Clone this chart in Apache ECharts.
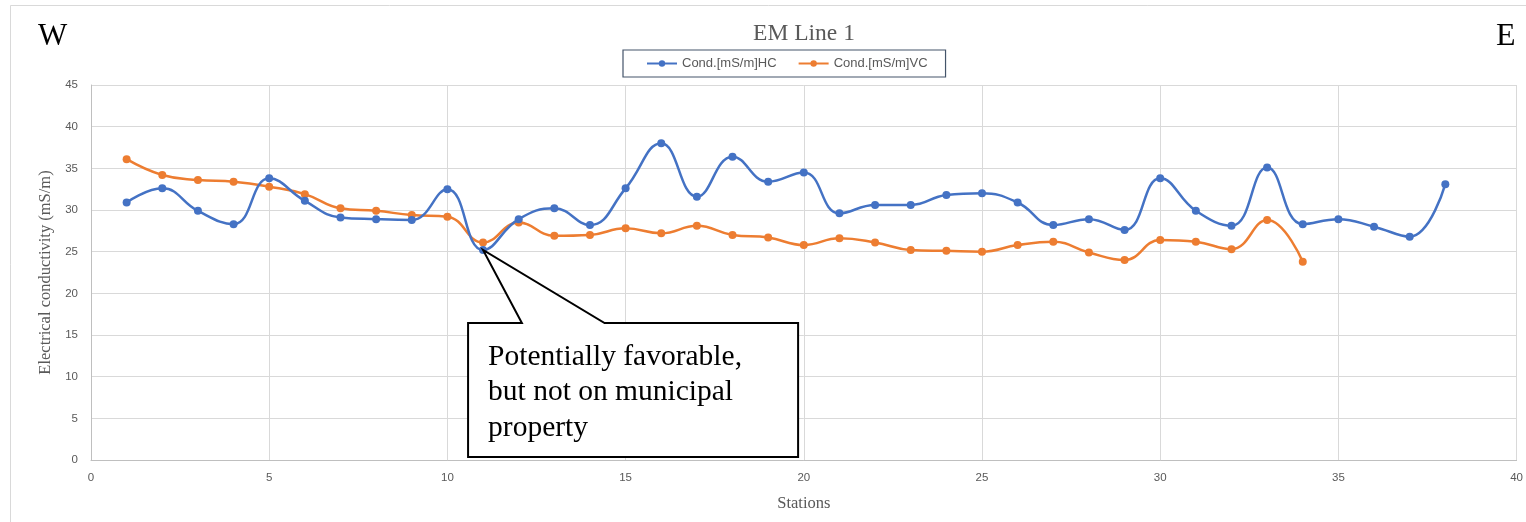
<!DOCTYPE html>
<html>
<head>
<meta charset="utf-8">
<title>EM Line 1</title>
<script src="https://cdn.jsdelivr.net/npm/echarts@6/dist/echarts.min.js"></script>
<style>
  html, body { margin: 0; padding: 0; background: #ffffff; }
  #chart { width: 1526px; height: 522px; }
</style>
</head>
<body>
<div id="chart"></div>
<script>
// Station numbers along the profile
const stationsHC = [1,2,3,4,5,6,7,8,9,10,11,12,13,14,15,16,17,18,19,20,21,22,23,24,25,26,27,28,29,30,31,32,33,34,35,36,37,38];
const stationsVC = [1,2,3,4,5,6,7,8,9,10,11,12,13,14,15,16,17,18,19,20,21,22,23,24,25,26,27,28,29,30,31,32,33,34];

// Conductivity readings, horizontal coplanar (HC) and vertical coplanar (VC), mS/m
const condHC = [30.9,32.6,29.9,28.3,33.8,31.1,29.1,28.9,28.8,32.5,25.2,28.9,30.2,28.2,32.6,38.0,31.6,36.4,33.4,34.5,29.6,30.6,30.6,31.8,32.0,30.9,28.2,28.9,27.6,33.8,29.9,28.1,35.1,28.3,28.9,28.0,26.8,33.1];
const condVC = [36.1,34.2,33.6,33.4,32.8,31.9,30.2,29.9,29.4,29.2,26.1,28.5,26.9,27.0,27.8,27.2,28.1,27.0,26.7,25.8,26.6,26.1,25.2,25.1,25.0,25.8,26.2,24.9,24.0,26.4,26.2,25.3,28.8,23.8];

const seriesNames = ['Cond.[mS/m]HC', 'Cond.[mS/m]VC'];
const calloutLines = ['Potentially favorable,', 'but not on municipal', 'property'];
const calloutStation = 11; // the callout points at this HC reading

const serif = '"Liberation Serif", "DejaVu Serif", serif';
const sans = '"Liberation Sans", "DejaVu Sans", sans-serif';
const grey = '#595959';

const chart = echarts.init(document.getElementById('chart'), null, { renderer: 'canvas' });

// Callout box extent in axis units
const box = { x0: 10.58, x1: 19.84, yTop: 16.44, yBottom: 0.36, baseA: 12.09, baseB: 14.41 };

function pairs(xs, ys) { return xs.map((x, i) => [x, ys[i]]); }

const option = {
  animation: false,
  backgroundColor: '#ffffff',
  title: {
    text: 'EM Line 1',
    left: 799, top: 17, textAlign: 'center',
    textStyle: { fontFamily: serif, fontSize: 23.5, fontWeight: 'normal', color: grey }
  },
  legend: {
    data: seriesNames,
    left: 623, top: 50,
    padding: [7, 18, 7, 23],
    itemGap: 21,
    itemWidth: 30, itemHeight: 8,
    borderColor: '#44546a', borderWidth: 1.2,
    textStyle: { fontFamily: sans, fontSize: 13, color: grey }
  },
  grid: { left: 91, right: 5, top: 85, bottom: 62, containLabel: false },
  xAxis: {
    type: 'value', min: 0, max: 40, interval: 5,
    name: 'Stations', nameLocation: 'middle', nameGap: 35,
    nameTextStyle: { fontFamily: serif, fontSize: 16.5, color: grey },
    axisLine: { show: true, lineStyle: { color: '#bfbfbf', width: 1 } },
    axisTick: { show: false },
    axisLabel: { fontFamily: sans, fontSize: 11.5, color: grey, margin: 12 },
    splitLine: { show: true, lineStyle: { color: '#d9d9d9', width: 1 } }
  },
  yAxis: {
    type: 'value', min: 0, max: 45, interval: 5,
    name: 'Electrical conductivity (mS/m)', nameLocation: 'middle', nameGap: 35,
    nameTextStyle: { fontFamily: serif, fontSize: 16.5, color: grey },
    axisLine: { show: true, lineStyle: { color: '#bfbfbf', width: 1 } },
    axisTick: { show: false },
    axisLabel: { fontFamily: sans, fontSize: 11.5, color: grey, margin: 13 },
    splitLine: { show: true, lineStyle: { color: '#d9d9d9', width: 1 } }
  },
  graphic: [
    { type: 'rect', shape: { x: 10.5, y: 5.5, width: 1530, height: 530 },
      style: { fill: 'none', stroke: '#d9d9d9', lineWidth: 1 }, silent: true, z: -10 },
    { type: 'text', left: 38, top: 21,
      style: { text: 'W', font: '31px ' + serif, fill: '#000000' } },
    { type: 'text', left: 1496, top: 21,
      style: { text: 'E', font: '32px ' + serif, fill: '#000000' } }
  ],
  series: [
    {
      name: seriesNames[0], type: 'line', data: pairs(stationsHC, condHC),
      smooth: 0.45, symbol: 'circle', symbolSize: 8, z: 3,
      color: '#4472c4', lineStyle: { width: 2.5, color: '#4472c4' },
      itemStyle: { color: '#4472c4' }
    },
    {
      name: seriesNames[1], type: 'line', data: pairs(stationsVC, condVC),
      smooth: 0.45, symbol: 'circle', symbolSize: 8, z: 2,
      color: '#ed7d31', lineStyle: { width: 2.5, color: '#ed7d31' },
      itemStyle: { color: '#ed7d31' }
    },
    {
      name: 'callout', type: 'custom', z: 10, clip: false, silent: true,
      data: [[calloutStation, condHC[stationsHC.indexOf(calloutStation)]]],
      renderItem: function (params, api) {
        const tip = api.coord([api.value(0), api.value(1)]);
        const tl = api.coord([box.x0, box.yTop]);
        const br = api.coord([box.x1, box.yBottom]);
        const a = api.coord([box.baseA, box.yTop]);
        const b = api.coord([box.baseB, box.yTop]);
        return {
          type: 'group',
          children: [
            {
              type: 'polygon',
              shape: { points: [
                [tl[0], tl[1]], [a[0], tl[1]], [tip[0], tip[1]], [b[0], tl[1]],
                [br[0], tl[1]], [br[0], br[1]], [tl[0], br[1]]
              ] },
              style: { fill: '#ffffff', stroke: '#000000', lineWidth: 2, lineJoin: 'miter' }
            },
            {
              type: 'text',
              x: tl[0] + 20, y: tl[1] + 16,
              style: {
                text: calloutLines.join('\n'),
                font: '29.5px ' + serif, fill: '#000000', lineHeight: 35.5,
                verticalAlign: 'top', align: 'left'
              }
            }
          ]
        };
      }
    }
  ]
};

chart.setOption(option);
</script>
</body>
</html>
